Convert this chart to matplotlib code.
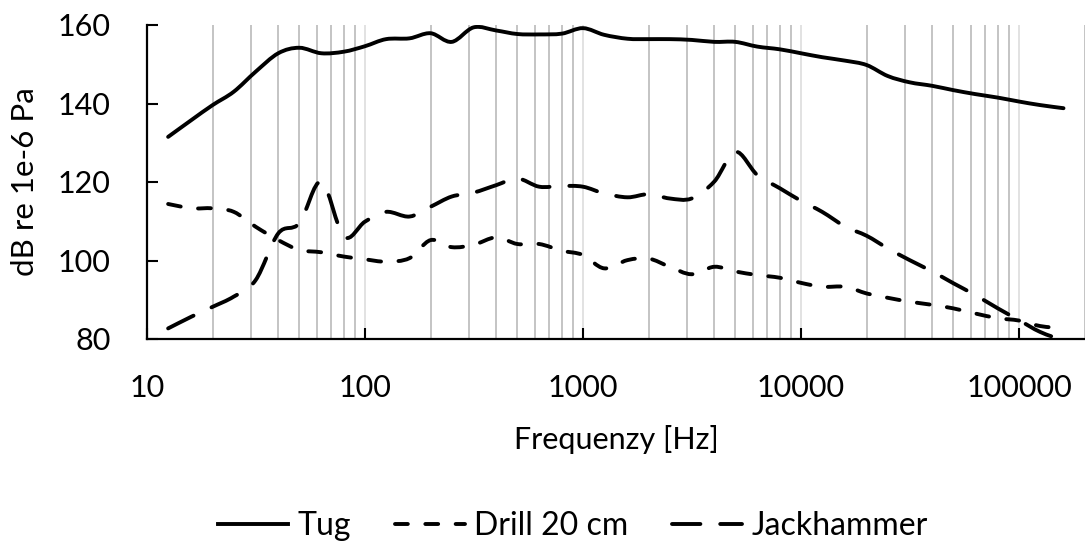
import numpy as np
import matplotlib
matplotlib.use("Agg")
import matplotlib.pyplot as plt
from matplotlib.path import Path
from matplotlib.patches import PathPatch
from matplotlib.lines import Line2D
from matplotlib.ticker import LogLocator, FixedLocator, NullFormatter

plt.rcParams['font.family'] = ['Lato', 'DejaVu Sans']

# third-octave band centre frequencies [Hz]
freq = [12.5, 16, 20, 25, 31.5, 40, 50, 63, 80, 100, 125, 160, 200, 250, 315,
        400, 500, 630, 800, 1000, 1250, 1600, 2000, 2500, 3150, 4000, 5000,
        6300, 8000, 10000, 12500, 16000, 20000, 25000, 31500, 40000, 50000,
        63000, 80000, 100000, 125000, 160000]

tug = [131.5, 135.8, 139.6, 143.0, 148.1, 152.8, 154.2, 152.8, 153.2, 154.6,
       156.4, 156.6, 157.9, 155.7, 159.4, 158.6, 157.7, 157.6, 157.8, 159.2,
       157.5, 156.5, 156.4, 156.4, 156.2, 155.7, 155.7, 154.5, 153.8, 152.8,
       151.8, 150.9, 149.8, 147.0, 145.4, 144.5, 143.4, 142.4, 141.5, 140.5,
       139.6, 138.8]

drill = [114.4, 113.3, 113.3, 112.4, 108.6, 105.2, 102.7, 102.1, 101.0, 100.3,
         99.7, 100.6, 105.2, 103.4, 104.0, 105.9, 104.2, 104.2, 102.5, 101.4,
         98.0, 100.1, 100.5, 98.4, 96.5, 98.4, 97.2, 96.3, 95.6, 94.3,
         93.3, 93.3, 91.6, 90.5, 89.5, 88.7, 87.8, 86.5, 85.3, 84.7,
         83.3, 82.7]

jackhammer = [82.7, 85.7, 88.2, 90.8, 95.0, 106.9, 109.5, 120.1, 106.1, 109.9,
              112.4, 111.2, 113.7, 116.3, 117.3, 119.2, 120.9, 118.8, 119.0, 118.8,
              117.1, 116.1, 116.9, 115.8, 115.8, 120.1, 127.7, 121.8, 118.4, 115.2,
              112.4, 108.6, 106.3, 103.1, 100.1, 97.2, 94.2, 91.2, 87.8, 84.8,
              81.8, 79.6]

series_names = ['Tug', 'Drill 20 cm', 'Jackhammer']


def smooth_path(x, y):
    # Excel-like smoothed line: cubic bezier segments, built in log-x space
    lx = np.log10(np.asarray(x, float))
    y = np.asarray(y, float)
    n = len(lx)
    verts = [(10 ** lx[0], y[0])]
    codes = [Path.MOVETO]
    for i in range(n - 1):
        a = max(i - 1, 0)
        b = min(i + 2, n - 1)
        c1 = (lx[i] + (lx[i + 1] - lx[a]) / 6, y[i] + (y[i + 1] - y[a]) / 6)
        c2 = (lx[i + 1] - (lx[b] - lx[i]) / 6, y[i + 1] - (y[b] - y[i]) / 6)
        verts += [(10 ** c1[0], c1[1]), (10 ** c2[0], c2[1]), (10 ** lx[i + 1], y[i + 1])]
        codes += [Path.CURVE4] * 3
    return Path(verts, codes)


fig = plt.figure(figsize=(10.85, 5.43), dpi=100)
ax = fig.add_axes([147 / 1085, (543 - 339) / 543, 1 - 147 / 1085, (339 - 25) / 543])

ax.set_xscale('log')
ax.set_xlim(10, 10 ** (1 + (1085 - 147) / 218))
ax.set_ylim(80, 160)

lw = 2.8
styles = ['-', (0, (3.3, 4.5)), (0, (7.3, 5.1))]
handles = []
for vals, ls, name in zip([tug, drill, jackhammer], styles, series_names):
    patch = PathPatch(smooth_path(freq, vals), fill=False, edgecolor='black',
                      lw=lw, linestyle=ls, capstyle='round', joinstyle='round', zorder=3)
    ax.add_patch(patch)
    handles.append(Line2D([], [], color='black', lw=lw, linestyle=ls,
                          dash_capstyle='round', label=name))

# grid
ax.xaxis.set_major_locator(FixedLocator([10, 100, 1000, 10000, 100000]))
ax.xaxis.set_minor_locator(LogLocator(base=10, subs=np.arange(2, 10), numticks=20))
ax.xaxis.set_minor_formatter(NullFormatter())
ax.set_xticklabels(['10', '100', '1000', '10000', '100000'])
ax.grid(True, which='minor', axis='x', color='#c4c4c4', lw=1.4)
ax.grid(True, which='major', axis='x', color='#e2e2e2', lw=1.4)
ax.set_yticks([80, 100, 120, 140, 160])

for s in ['top', 'right']:
    ax.spines[s].set_visible(False)
for s in ['left', 'bottom']:
    ax.spines[s].set_linewidth(1.6)
    ax.spines[s].set_zorder(4)

ax.tick_params(axis='both', which='major', direction='in', length=8, width=1.5,
               labelsize=22, colors='black')
ax.tick_params(axis='x', which='major', pad=25)
ax.tick_params(axis='y', which='major', pad=26)
ax.tick_params(axis='x', which='minor', length=0)

ax.set_xlabel('Frequenzy [Hz]', fontsize=22)
ax.xaxis.set_label_coords(0.5, -(440 - 339) / 314)
ax.xaxis.label.set_va('center')
ax.set_ylabel('dB re 1e-6 Pa', fontsize=22.5)
ax.yaxis.set_label_coords(-(147 - 25) / 938, 0.5)
ax.yaxis.label.set_va('center')

fig.legend(handles=handles, loc='center', bbox_to_anchor=(573 / 1085, 1 - 526 / 543),
           ncol=3, frameon=False, fontsize=23, handlelength=2.2, handletextpad=0.3,
           columnspacing=1.35, borderpad=0)

fig.savefig('out.png', dpi=100)
